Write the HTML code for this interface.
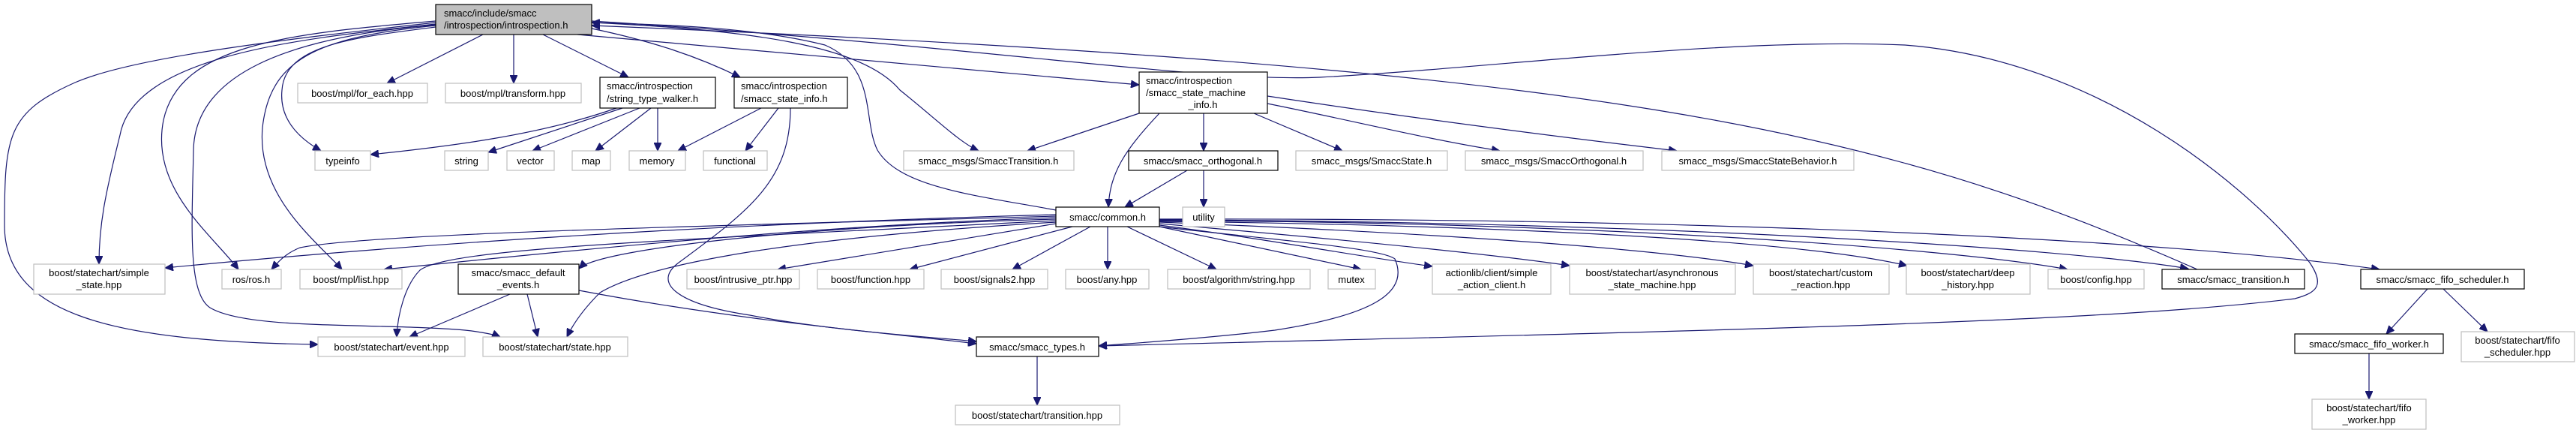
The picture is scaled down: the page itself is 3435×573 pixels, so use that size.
<!DOCTYPE html>
<html><head><meta charset="utf-8"><style>
html,body{margin:0;padding:0;background:#fff;}
svg{display:block;}
text{font-family:"Liberation Sans",sans-serif;font-size:13px;fill:#000;}
.e{fill:none;stroke:#191970;stroke-width:1.2;}
.g{fill:#fff;stroke:#bfbfbf;stroke-width:1.2;}
.b{fill:#fff;stroke:#000;stroke-width:1.2;}
</style></head><body>
<svg width="3435" height="573" viewBox="0 0 3435 573" xmlns="http://www.w3.org/2000/svg">
<defs><marker id="a" markerUnits="userSpaceOnUse" markerWidth="12" markerHeight="10" refX="11" refY="5" orient="auto"><path d="M0,0 L11,5 L0,10 Z" fill="#191970" stroke="#191970"/></marker></defs>
<g class="e" marker-end="url(#a)">
<!-- from main -->
<path d="M644,46 L516,111"/>
<path d="M685,46 L685,111"/>
<path d="M724,46 L838,103"/>
<path d="M770,46 L1519,113"/>
<path d="M789,38 C870,55 930,75 987,103"/>
<path d="M581,36 C470,50 380,60 376,120 C372,160 400,185 428,201"/>
<path d="M581,32 C420,50 180,70 160,180 C140,260 132,300 132,352"/>
<path d="M581,28 C380,45 240,60 218,160 C200,250 280,310 318,359"/>
<path d="M581,34 C420,50 360,80 350,170 C342,260 420,320 456,359"/>
<path d="M581,30 C400,50 180,75 100,110 C10,150 6,180 6,300 C6,420 150,455 424,459"/>
<path d="M581,33 C380,50 260,100 258,200 C256,300 250,390 280,410 C330,440 500,430 620,440 C640,442 660,446 667,449"/>
<path d="M789,30 C1000,40 1150,60 1200,120 C1250,160 1280,190 1305,201"/>
<path d="M789,28 C1300,60 1600,110 1760,103 C2000,90 2300,50 2540,60 C2800,80 3000,250 3080,350 C3100,380 3090,390 3060,398 C2800,430 2300,440 1465,461"/>
<!-- back edges to main -->
<path d="M1408,280 C1300,260 1200,250 1170,200 C1150,160 1170,90 1100,60 C1000,35 880,33 789,30"/>
<path d="M2930,359 C2500,170 2150,90 789,34"/>
<!-- string_type_walker -->
<path d="M822,144 C720,180 600,195 494,206"/>
<path d="M830,144 L651,203"/>
<path d="M853,144 L710,201"/>
<path d="M868,144 L794,201"/>
<path d="M877,144 L877,201"/>
<!-- state_info -->
<path d="M1015,144 L904,201"/>
<path d="M1038,144 L994,201"/>
<path d="M1054,144 C1054,240 1000,280 905,350 C870,376 900,405 1000,420 C1100,440 1250,450 1302,455"/>
<!-- state_machine_info -->
<path d="M1519,151 L1370,201"/>
<path d="M1546,151 C1500,200 1480,230 1478,276"/>
<path d="M1605,151 L1605,201"/>
<path d="M1672,151 L1790,201"/>
<path d="M1690,138 C1800,160 1900,185 2000,201"/>
<path d="M1690,128 C1900,160 2100,185 2236,201"/>
<!-- orthogonal -->
<path d="M1583,227 L1500,276"/>
<path d="M1605,227 L1605,276"/>
<!-- smacc_types -->
<path d="M1383,475 L1383,540"/>
<!-- common -->
<path d="M1408,286 C900,300 500,330 220,357"/>
<path d="M1408,288 C1000,300 500,310 400,330 C380,338 370,350 362,359"/>
<path d="M1408,290 C1100,300 800,330 512,359"/>
<path d="M1408,292 C1100,300 800,330 772,358"/>
<path d="M1408,294 C900,320 600,330 560,360 C540,380 530,420 529,449"/>
<path d="M1408,296 C1000,320 850,360 800,390 C780,410 765,430 756,449"/>
<path d="M1408,298 L1037,359"/>
<path d="M1430,302 L1213,359"/>
<path d="M1454,302 L1350,359"/>
<path d="M1477,302 L1477,359"/>
<path d="M1503,302 L1622,359"/>
<path d="M1546,302 L1815,359"/>
<path d="M1546,300 C1700,320 1800,340 1910,355"/>
<path d="M1546,298 C1800,320 2000,340 2093,354"/>
<path d="M1546,296 C1900,310 2200,330 2338,354"/>
<path d="M1546,295 C2000,300 2400,320 2543,354"/>
<path d="M1546,294 C2100,295 2600,330 2757,359"/>
<path d="M1546,293 C2200,295 2750,330 2918,358"/>
<path d="M1546,292 C2300,290 2900,320 3173,359"/>
<path d="M1546,302 C1700,320 1840,330 1860,345 C1880,390 1830,420 1700,440 C1600,452 1500,458 1465,461"/>
<!-- default events -->
<path d="M680,392 L546,449"/>
<path d="M703,392 L717,449"/>
<path d="M772,387 C1000,430 1200,445 1302,458"/>
<!-- fifo -->
<path d="M3237,385 L3182,445"/>
<path d="M3258,385 L3317,442"/>
<path d="M3159,471 L3159,532"/>
</g>
<!-- nodes -->
<rect x="581" y="6" width="208" height="40" fill="#bfbfbf" stroke="#000" stroke-width="1.2"/>
<text x="592" y="22">smacc/include/smacc</text><text x="592" y="38">/introspection/introspection.h</text>
<g>
<rect class="g" x="397" y="111" width="173" height="26"/><text x="483" y="129" text-anchor="middle">boost/mpl/for_each.hpp</text>
<rect class="g" x="594" y="111" width="181" height="26"/><text x="684" y="129" text-anchor="middle">boost/mpl/transform.hpp</text>
<rect class="b" x="800" y="103" width="154" height="41"/><text x="809" y="119">smacc/introspection</text><text x="809" y="136">/string_type_walker.h</text>
<rect class="b" x="979" y="103" width="151" height="41"/><text x="988" y="119">smacc/introspection</text><text x="988" y="136">/smacc_state_info.h</text>
<rect class="b" x="1519" y="96" width="171" height="55"/><text x="1528" y="112">smacc/introspection</text><text x="1528" y="128">/smacc_state_machine</text><text x="1604" y="144" text-anchor="middle">_info.h</text>
<rect class="g" x="420" y="201" width="74" height="26"/><text x="457" y="219" text-anchor="middle">typeinfo</text>
<rect class="g" x="593" y="201" width="58" height="26"/><text x="622" y="219" text-anchor="middle">string</text>
<rect class="g" x="676" y="201" width="63" height="26"/><text x="707" y="219" text-anchor="middle">vector</text>
<rect class="g" x="763" y="201" width="51" height="26"/><text x="788" y="219" text-anchor="middle">map</text>
<rect class="g" x="839" y="201" width="75" height="26"/><text x="876" y="219" text-anchor="middle">memory</text>
<rect class="g" x="938" y="201" width="85" height="26"/><text x="980" y="219" text-anchor="middle">functional</text>
<rect class="g" x="1205" y="201" width="227" height="26"/><text x="1318" y="219" text-anchor="middle">smacc_msgs/SmaccTransition.h</text>
<rect class="b" x="1505" y="201" width="199" height="26"/><text x="1604" y="219" text-anchor="middle">smacc/smacc_orthogonal.h</text>
<rect class="g" x="1728" y="201" width="202" height="26"/><text x="1829" y="219" text-anchor="middle">smacc_msgs/SmaccState.h</text>
<rect class="g" x="1954" y="201" width="237" height="26"/><text x="2072" y="219" text-anchor="middle">smacc_msgs/SmaccOrthogonal.h</text>
<rect class="g" x="2216" y="201" width="256" height="26"/><text x="2344" y="219" text-anchor="middle">smacc_msgs/SmaccStateBehavior.h</text>
<rect class="b" x="1408" y="276" width="138" height="26"/><text x="1477" y="294" text-anchor="middle">smacc/common.h</text>
<rect class="g" x="1577" y="276" width="56" height="26"/><text x="1605" y="294" text-anchor="middle">utility</text>
<rect class="g" x="45" y="352" width="175" height="40"/><text x="132" y="368" text-anchor="middle">boost/statechart/simple</text><text x="132" y="384" text-anchor="middle">_state.hpp</text>
<rect class="g" x="296" y="359" width="79" height="26"/><text x="335" y="377" text-anchor="middle">ros/ros.h</text>
<rect class="g" x="400" y="359" width="136" height="26"/><text x="468" y="377" text-anchor="middle">boost/mpl/list.hpp</text>
<rect class="b" x="611" y="352" width="161" height="40"/><text x="691" y="368" text-anchor="middle">smacc/smacc_default</text><text x="691" y="384" text-anchor="middle">_events.h</text>
<rect class="g" x="916" y="359" width="150" height="26"/><text x="991" y="377" text-anchor="middle">boost/intrusive_ptr.hpp</text>
<rect class="g" x="1090" y="359" width="142" height="26"/><text x="1161" y="377" text-anchor="middle">boost/function.hpp</text>
<rect class="g" x="1255" y="359" width="142" height="26"/><text x="1326" y="377" text-anchor="middle">boost/signals2.hpp</text>
<rect class="g" x="1421" y="359" width="111" height="26"/><text x="1476" y="377" text-anchor="middle">boost/any.hpp</text>
<rect class="g" x="1557" y="359" width="190" height="26"/><text x="1652" y="377" text-anchor="middle">boost/algorithm/string.hpp</text>
<rect class="g" x="1771" y="359" width="63" height="26"/><text x="1802" y="377" text-anchor="middle">mutex</text>
<rect class="g" x="1910" y="352" width="158" height="40"/><text x="1989" y="368" text-anchor="middle">actionlib/client/simple</text><text x="1989" y="384" text-anchor="middle">_action_client.h</text>
<rect class="g" x="2093" y="352" width="221" height="40"/><text x="2203" y="368" text-anchor="middle">boost/statechart/asynchronous</text><text x="2203" y="384" text-anchor="middle">_state_machine.hpp</text>
<rect class="g" x="2338" y="352" width="181" height="40"/><text x="2428" y="368" text-anchor="middle">boost/statechart/custom</text><text x="2428" y="384" text-anchor="middle">_reaction.hpp</text>
<rect class="g" x="2542" y="352" width="165" height="40"/><text x="2624" y="368" text-anchor="middle">boost/statechart/deep</text><text x="2624" y="384" text-anchor="middle">_history.hpp</text>
<rect class="g" x="2731" y="359" width="128" height="26"/><text x="2795" y="377" text-anchor="middle">boost/config.hpp</text>
<rect class="b" x="2883" y="359" width="190" height="26"/><text x="2978" y="377" text-anchor="middle">smacc/smacc_transition.h</text>
<rect class="b" x="3148" y="359" width="218" height="26"/><text x="3257" y="377" text-anchor="middle">smacc/smacc_fifo_scheduler.h</text>
<rect class="g" x="424" y="449" width="196" height="26"/><text x="522" y="467" text-anchor="middle">boost/statechart/event.hpp</text>
<rect class="g" x="644" y="449" width="193" height="26"/><text x="740" y="467" text-anchor="middle">boost/statechart/state.hpp</text>
<rect class="b" x="1302" y="449" width="163" height="26"/><text x="1383" y="467" text-anchor="middle">smacc/smacc_types.h</text>
<rect class="b" x="3060" y="445" width="198" height="26"/><text x="3159" y="463" text-anchor="middle">smacc/smacc_fifo_worker.h</text>
<rect class="g" x="3282" y="442" width="151" height="40"/><text x="3357" y="458" text-anchor="middle">boost/statechart/fifo</text><text x="3357" y="474" text-anchor="middle">_scheduler.hpp</text>
<rect class="g" x="1274" y="540" width="219" height="26"/><text x="1383" y="558" text-anchor="middle">boost/statechart/transition.hpp</text>
<rect class="g" x="3083" y="532" width="152" height="40"/><text x="3159" y="548" text-anchor="middle">boost/statechart/fifo</text><text x="3159" y="564" text-anchor="middle">_worker.hpp</text>
</g>
</svg>
</body></html>
